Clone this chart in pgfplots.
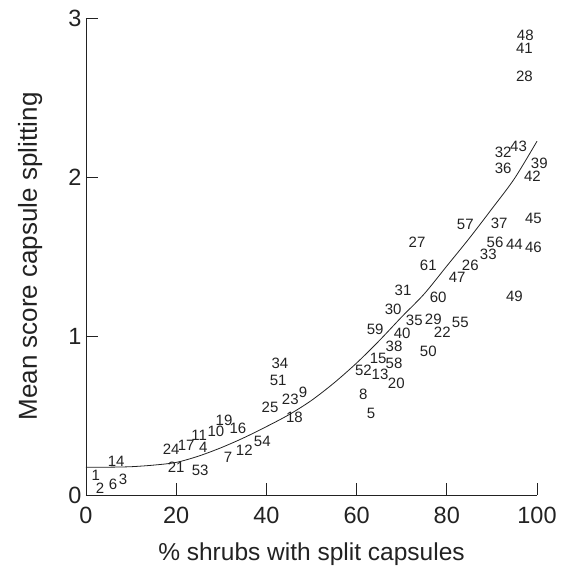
\documentclass[border=0pt]{standalone}
\usepackage{fontspec}
\setmainfont{Liberation Sans}
\usepackage{pgfplots}
\usepackage{pgfplotstable}
\pgfplotsset{compat=1.18}

% site numbers placed at (% split shrubs, mean score)
\pgfplotstableread{
x y lab
97.4 2.893 48
97.2 2.811 41
97.2 2.635 28
92.5 2.157 32
95.9 2.195 43
92.5 2.057 36
100.5 2.088 39
99.0 2.006 42
99.2 1.742 45
91.6 1.711 37
84.1 1.704 57
90.7 1.591 56
95.0 1.579 44
99.2 1.560 46
73.4 1.591 27
75.9 1.447 61
85.2 1.447 26
89.2 1.516 33
82.3 1.371 47
78.1 1.245 60
95.0 1.252 49
70.3 1.289 31
68.1 1.170 30
72.8 1.101 35
77.0 1.107 29
83.0 1.088 55
79.0 1.025 22
64.1 1.044 59
70.1 1.019 40
68.3 0.937 38
75.9 0.906 50
64.8 0.862 15
68.3 0.830 58
61.5 0.786 52
65.2 0.761 13
68.8 0.704 20
61.5 0.635 8
63.2 0.516 5
43.0 0.830 34
42.6 0.723 51
45.3 0.604 23
48.1 0.648 9
40.8 0.553 25
46.2 0.491 18
30.6 0.472 19
28.8 0.403 10
33.7 0.421 16
25.1 0.377 11
22.2 0.314 17
18.9 0.289 24
26.0 0.302 4
39.1 0.340 54
35.1 0.283 12
31.5 0.239 7
6.7 0.214 14
20.0 0.176 21
25.3 0.157 53
2.2 0.126 1
3.1 0.044 2
6.0 0.069 6
8.2 0.101 3
}\sites

% fitted curve
\pgfplotstableread{
x y
0 0.175
5 0.175
10 0.178
15 0.188
20 0.205
25 0.245
30 0.298
35 0.360
40 0.430
45 0.505
50 0.595
55 0.705
60 0.830
65 0.970
70 1.120
75 1.265
80 1.440
85 1.615
90 1.800
95 1.990
100 2.225
}\fitcurve

\definecolor{ink}{HTML}{222222}

\begin{document}
\begin{tikzpicture}
\begin{axis}[
  scale only axis,
  width=451pt, height=477pt,
  xmin=0, xmax=100, ymin=0, ymax=3,
  axis x line=bottom, axis y line=left,
  axis line style={-, draw=ink, line width=0.9pt},
  xtick={0,20,40,60,80,100}, ytick={0,1,2,3},
  tick align=inside, major tick length=12pt,
  tick style={draw=ink, line width=0.9pt},
  /pgf/number format/assume math mode=true,
  ticklabel style={font=\fontsize{23.5}{23.5}\selectfont, text=ink},
  xticklabel style={yshift=-9pt},
  yticklabel style={xshift=-1pt},
  xlabel={\% shrubs with split capsules},
  ylabel={Mean score capsule splitting},
  xlabel style={font=\fontsize{24.5}{24.5}\selectfont, text=ink, at={(axis description cs:0.5,-0.124)}, anchor=center},
  ylabel style={font=\fontsize{26}{26}\selectfont, text=ink, at={(axis description cs:-0.124,0.5)}, anchor=center, rotate=0},
  clip=false,
]
\addplot[ink, line width=0.8pt, smooth] table[x=x, y=y] {\fitcurve};
\addplot[only marks, mark=none, nodes near coords, point meta=explicit symbolic,
  nodes near coords style={anchor=center, inner sep=0pt, font=\fontsize{15}{15}\selectfont, text=ink}]
  table[x=x, y=y, meta=lab] {\sites};
\end{axis}
\pgfresetboundingbox
\path[use as bounding box] ([xshift=-86pt,yshift=-75pt]current axis.south west) rectangle ([xshift=28pt,yshift=18pt]current axis.north east);
\end{tikzpicture}
\end{document}
